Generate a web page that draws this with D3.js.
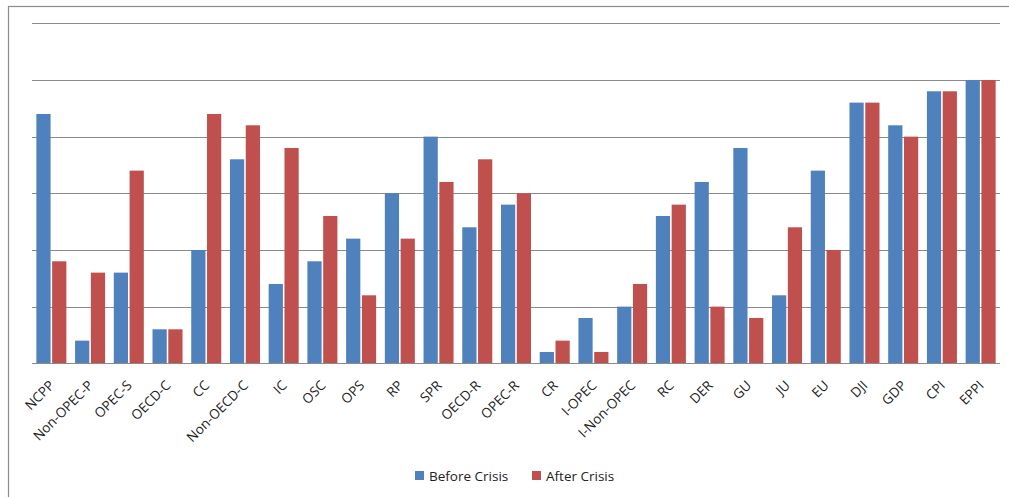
<!DOCTYPE html>
<html>
<head>
<meta charset="utf-8">
<script src="https://cdn.jsdelivr.net/npm/d3@7"></script>
<style>
  html, body { margin: 0; padding: 0; background: #fff; }
  svg { display: block; }
  text { font-family: "Open Sans", Lato, sans-serif; fill: #222; }
</style>
</head>
<body>
<svg id="chart" width="1009" height="497"></svg>
<script>
// Indicator codes along the x axis
const categories = ["NCPP", "Non-OPEC-P", "OPEC-S", "OECD-C", "CC", "Non-OECD-C", "IC", "OSC", "OPS", "RP",
  "SPR", "OECD-R", "OPEC-R", "CR", "I-OPEC", "I-Non-OPEC", "RC", "DER", "GU", "JU", "EU", "DJI", "GDP", "CPI", "EPPI"];

// Rank of each indicator (1–25) in the two periods
const beforeCrisis = [22, 2, 8, 3, 10, 18, 7, 9, 11, 15, 20, 12, 14, 1, 4, 5, 13, 16, 19, 6, 17, 23, 21, 24, 25];
const afterCrisis  = [9, 8, 17, 3, 22, 21, 19, 13, 6, 11, 16, 18, 15, 2, 1, 7, 14, 5, 4, 12, 10, 23, 20, 24, 25];

const seriesNames = ["Before Crisis", "After Crisis"];
const yTicks = [0, 5, 10, 15, 20, 25, 30];

const colors = ["#4F81BD", "#C0504D"];
const svg = d3.select("#chart");

// Outer chart frame
svg.append("rect")
  .attr("x", 8.5).attr("y", 6.5)
  .attr("width", 1010).attr("height", 500)
  .attr("fill", "none").attr("stroke", "#8c8c8c").attr("stroke-width", 1.2);

const plot = { left: 32, right: 1000, top: 23.3, bottom: 363.3 };

const x = d3.scaleBand()
  .domain(categories)
  .range([plot.left, plot.right])
  .paddingInner(0.225)
  .paddingOuter(0.1125);

const x1 = d3.scaleBand()
  .domain(seriesNames)
  .range([0, x.bandwidth()])
  .paddingInner(0.1);

const y = d3.scaleLinear().domain([0, 30]).range([plot.bottom, plot.top]);

// Horizontal gridlines
svg.append("g")
  .selectAll("line")
  .data(yTicks.filter(d => d > 0))
  .join("line")
  .attr("x1", plot.left).attr("x2", plot.right)
  .attr("y1", d => Math.round(y(d)) + 0.5).attr("y2", d => Math.round(y(d)) + 0.5)
  .attr("stroke", "#8a8a8a").attr("stroke-width", 1.2);

// Bars
const data = categories.map((c, i) => ({ cat: c, vals: [beforeCrisis[i], afterCrisis[i]] }));

svg.append("g")
  .selectAll("g")
  .data(data)
  .join("g")
  .attr("transform", d => `translate(${x(d.cat)},0)`)
  .selectAll("rect")
  .data(d => d.vals.map((v, j) => ({ v, s: seriesNames[j], j })))
  .join("rect")
  .attr("x", d => x1(d.s))
  .attr("width", x1.bandwidth())
  .attr("y", d => y(d.v))
  .attr("height", d => y(0) - y(d.v))
  .attr("fill", d => colors[d.j]);

// Category axis line
svg.append("line")
  .attr("x1", plot.left).attr("x2", plot.right)
  .attr("y1", Math.round(plot.bottom) + 0.5).attr("y2", Math.round(plot.bottom) + 0.5)
  .attr("stroke", "#8a8a8a").attr("stroke-width", 1.2);

// Rotated category labels
svg.append("g")
  .selectAll("text")
  .data(categories)
  .join("text")
  .attr("transform", d => `translate(${x(d) + x.bandwidth() / 2 + 4},${plot.bottom + 23}) rotate(-45)`)
  .attr("text-anchor", "end")
  .attr("font-size", 13.5)
  .text(d => d);

// Legend
const legend = svg.append("g");
const legendItems = [{ name: seriesNames[0], x: 415 }, { name: seriesNames[1], x: 532 }];
legendItems.forEach((it, i) => {
  legend.append("rect")
    .attr("x", it.x).attr("y", 471)
    .attr("width", 9).attr("height", 9)
    .attr("fill", colors[i]);
  legend.append("text")
    .attr("x", it.x + 14).attr("y", 480.5)
    .attr("font-size", 13.5)
    .text(it.name);
});
</script>
</body>
</html>
